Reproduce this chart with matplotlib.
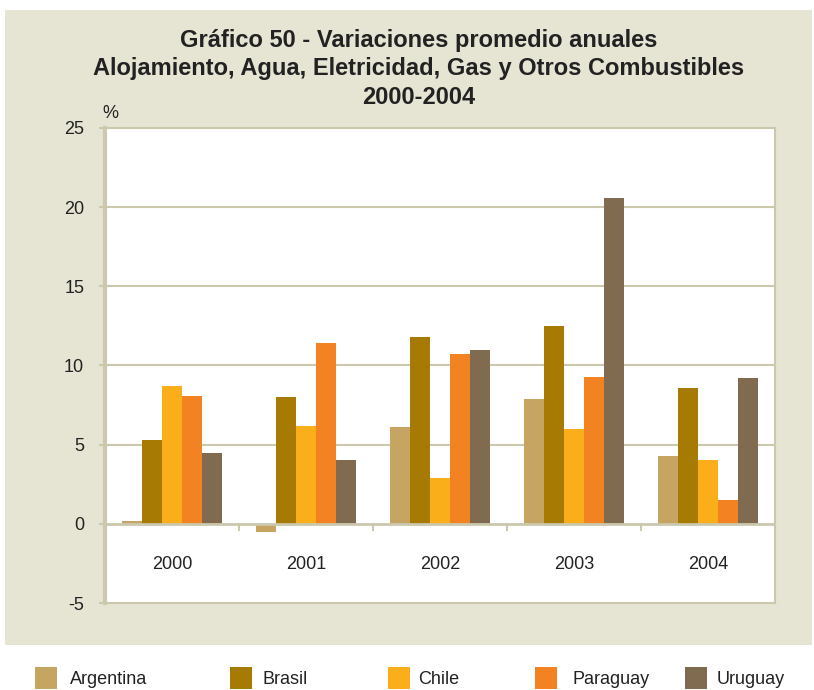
import matplotlib
matplotlib.use("Agg")
import matplotlib.pyplot as plt
from matplotlib.patches import Rectangle
import numpy as np

years = ["2000", "2001", "2002", "2003", "2004"]
countries = ["Argentina", "Brasil", "Chile", "Paraguay", "Uruguay"]
argentina = [0.2, -0.5, 6.1, 7.9, 4.3]
brasil = [5.3, 8.0, 11.8, 12.5, 8.6]
chile = [8.7, 6.2, 2.9, 6.0, 4.0]
paraguay = [8.1, 11.4, 10.7, 9.3, 1.5]
uruguay = [4.5, 4.0, 11.0, 20.6, 9.2]
series = [argentina, brasil, chile, paraguay, uruguay]
colors = ["#C6A462", "#A67A03", "#F9AE1A", "#F38222", "#806A50"]
yticks = [-5, 0, 5, 10, 15, 20, 25]
title_lines = ["Gráfico 50 - Variaciones promedio anuales",
               "Alojamiento, Agua, Eletricidad, Gas y Otros Combustibles",
               "2000-2004"]

fam = ["Liberation Sans Narrow", "Liberation Sans", "DejaVu Sans"]
plt.rcParams["font.family"] = fam

W, H = 814, 690
fig = plt.figure(figsize=(W / 100, H / 100), dpi=100)
fig.patch.set_facecolor("white")
bg = "#E6E4D3"
fig.patches.append(Rectangle((5 / W, 1 - 645 / H), 807 / W, 635 / H,
                             transform=fig.transFigure, facecolor=bg,
                             edgecolor="none", zorder=-5))

ax = fig.add_axes([105 / W, 1 - 603 / H, 670 / W, 475 / H])
ax.set_zorder(2)
ax.set_facecolor("white")
grid_c = "#CBC8AE"

x = np.arange(len(years))
bw = 0.15
for i, (vals, c) in enumerate(zip(series, colors)):
    ax.bar(x + (i - 2) * bw, vals, width=bw, color=c, zorder=3, label=countries[i])

ax.set_xlim(-0.5, len(years) - 0.5)
ax.set_ylim(-5, 25)
ax.set_yticks(yticks)
ax.set_yticklabels([str(t) for t in yticks], fontsize=13, color="#222222")
ax.tick_params(axis="y", length=4, color=grid_c, width=1.5, pad=11)
ax.set_xticks([])
for t in [5, 10, 15, 20]:
    ax.axhline(t, color=grid_c, lw=1.5, zorder=1)
ax.axhline(0, color=grid_c, lw=2, zorder=4)
for b in np.arange(0.5, len(years) - 0.5, 1.0):
    ax.plot([b, b], [0, -0.4], color=grid_c, lw=1.5, zorder=4, clip_on=False)
for xi, yr in zip(x, years):
    ax.text(xi, -2.55, yr, ha="center", va="center", fontsize=13, color="#222222")

for s in ["top", "right", "bottom"]:
    ax.spines[s].set_color(grid_c)
    ax.spines[s].set_linewidth(1.5)
ax.spines["left"].set_color(grid_c)
ax.spines["left"].set_linewidth(3)

fig.text(110 / W, 1 - 114 / H, "%", fontsize=13, ha="center", va="center", color="#222222")

for ty, line in zip([40, 68, 97], title_lines):
    fig.text(419 / W, 1 - ty / H, line, ha="center", va="center", fontsize=17,
             fontweight="bold", color="#222222")

leg_sq = [35, 230, 388, 535, 685]
leg_tx = [70, 263, 418, 572, 717]
for sx, tx, c, name in zip(leg_sq, leg_tx, colors, countries):
    fig.patches.append(Rectangle((sx / W, 1 - 689 / H), 22 / W, 22 / H,
                                 transform=fig.transFigure, facecolor=c,
                                 edgecolor="none"))
    fig.text(tx / W, 1 - 679 / H, name, ha="left", va="center", fontsize=13,
             color="#222222")

fig.savefig("out.png", dpi=100, facecolor=fig.get_facecolor())
